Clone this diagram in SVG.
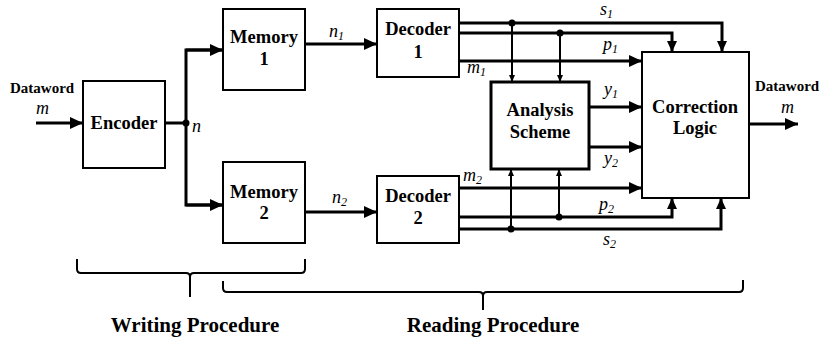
<svg xmlns="http://www.w3.org/2000/svg" width="821" height="340" viewBox="0 0 821 340">
  <style>
    .box { fill: #fff; stroke: #000; stroke-width: 2; }
    .thick { stroke-width: 3; }
    .lbl { font-family: "Liberation Serif", "Times New Roman", serif; font-weight: bold; font-size: 18.5px; text-anchor: middle; fill: #000; }
    .small { font-family: "Liberation Serif", "Times New Roman", serif; font-weight: bold; font-size: 15px; fill: #000; }
    .sig { font-family: "Liberation Serif", "Times New Roman", serif; font-style: italic; font-size: 18px; fill: #000; }
    .sub { font-size: 12px; }
    .title { font-family: "Liberation Serif", "Times New Roman", serif; font-weight: bold; font-size: 21px; text-anchor: middle; fill: #000; }
    .wire { fill: none; stroke: #000; stroke-width: 3; }
    .tap { fill: none; stroke: #000; stroke-width: 2; }
    .brace { fill: none; stroke: #000; stroke-width: 2; }
  </style>
  <defs>
    <marker id="arrow" markerUnits="userSpaceOnUse" markerWidth="14" markerHeight="12" viewBox="0 0 13 12" refX="13" refY="6" orient="auto">
      <path d="M0,0 L13,6 L0,12 Z" fill="#000"/>
    </marker>
    <marker id="arrowMid" markerUnits="userSpaceOnUse" markerWidth="11" markerHeight="10" viewBox="0 0 11 10" refX="11" refY="5" orient="auto">
      <path d="M0,0 L11,5 L0,10 Z" fill="#000"/>
    </marker>
    <marker id="arrowSmall" markerUnits="userSpaceOnUse" markerWidth="7" markerHeight="6" viewBox="0 0 7 6" refX="7" refY="3" orient="auto">
      <path d="M0,0 L7,3 L0,6 Z" fill="#000"/>
    </marker>
  </defs>

  <!-- connectors -->
  <g id="connectors">
    <!-- input dataword -->
    <line class="wire" x1="36" y1="123" x2="83" y2="123" marker-end="url(#arrow)"/>
    <!-- encoder output branches to both memories -->
    <line class="wire" x1="165" y1="123" x2="186" y2="123"/>
    <path class="wire" d="M223,50 H186 V205 H223"/>
    <line class="wire" x1="186" y1="50" x2="223" y2="50" marker-end="url(#arrow)"/>
    <line class="wire" x1="186" y1="205" x2="223" y2="205" marker-end="url(#arrow)"/>
    <circle cx="186" cy="123" r="3.5" fill="#000"/>
    <!-- memories to decoders -->
    <line class="wire" x1="305" y1="44" x2="377" y2="44" marker-end="url(#arrow)"/>
    <line class="wire" x1="305" y1="212" x2="377" y2="212" marker-end="url(#arrow)"/>
    <!-- decoder 1 outputs -->
    <path class="wire" d="M459,23 H722 V52" marker-end="url(#arrowMid)"/>
    <path class="wire" d="M459,33 H672 V52" marker-end="url(#arrowMid)"/>
    <line class="wire" x1="459" y1="61" x2="642" y2="61" marker-end="url(#arrow)"/>
    <!-- decoder 2 outputs -->
    <line class="wire" x1="459" y1="188" x2="642" y2="188" marker-end="url(#arrow)"/>
    <path class="wire" d="M459,217 H672 V198" marker-end="url(#arrowMid)"/>
    <path class="wire" d="M459,229 H721 V198" marker-end="url(#arrowMid)"/>
    <!-- taps into the analysis scheme -->
    <line class="tap" x1="512" y1="23" x2="512" y2="82" marker-end="url(#arrowSmall)"/>
    <line class="tap" x1="560" y1="33" x2="560" y2="82" marker-end="url(#arrowSmall)"/>
    <line class="tap" x1="511" y1="229" x2="511" y2="169" marker-end="url(#arrowSmall)"/>
    <line class="tap" x1="559" y1="217" x2="559" y2="169" marker-end="url(#arrowSmall)"/>
    <circle cx="512" cy="23" r="3.5" fill="#000"/>
    <circle cx="560" cy="33" r="3.5" fill="#000"/>
    <circle cx="511" cy="229" r="3.5" fill="#000"/>
    <circle cx="559" cy="217" r="3.5" fill="#000"/>
    <!-- analysis outputs -->
    <line class="wire" x1="589" y1="107" x2="642" y2="107" marker-end="url(#arrow)"/>
    <line class="wire" x1="589" y1="147" x2="642" y2="147" marker-end="url(#arrow)"/>
    <!-- output dataword -->
    <line class="wire" x1="749" y1="124" x2="798" y2="124" marker-end="url(#arrow)"/>
  </g>

  <!-- signal labels -->
  <g id="labels">
    <text class="small" x="10" y="93">Dataword</text>
    <text class="sig" x="36" y="114">m</text>
    <text class="sig" x="192" y="132">n</text>
    <text class="sig" x="329" y="37">n<tspan class="sub" dy="3">1</tspan></text>
    <text class="sig" x="332" y="203">n<tspan class="sub" dy="3">2</tspan></text>
    <text class="sig" x="600" y="15">s<tspan class="sub" dy="3">1</tspan></text>
    <text class="sig" x="603" y="50">p<tspan class="sub" dy="3">1</tspan></text>
    <text class="sig" x="467" y="73">m<tspan class="sub" dy="3">1</tspan></text>
    <text class="sig" x="463" y="181">m<tspan class="sub" dy="3">2</tspan></text>
    <text class="sig" x="604" y="95">y<tspan class="sub" dy="3">1</tspan></text>
    <text class="sig" x="604" y="164">y<tspan class="sub" dy="3">2</tspan></text>
    <text class="sig" x="599" y="210">p<tspan class="sub" dy="3">2</tspan></text>
    <text class="sig" x="603" y="245">s<tspan class="sub" dy="3">2</tspan></text>
    <text class="small" x="755" y="91">Dataword</text>
    <text class="sig" x="781" y="113">m</text>
  </g>

  <!-- nodes -->
  <g id="encoder">
    <rect class="box" x="83" y="81" width="82" height="87"/>
    <text class="lbl" x="124" y="129">Encoder</text>
  </g>
  <g id="memory1">
    <rect class="box" x="223" y="9" width="82" height="81"/>
    <text class="lbl" x="264" y="43">Memory</text>
    <text class="lbl" x="264" y="65">1</text>
  </g>
  <g id="memory2">
    <rect class="box" x="223" y="162" width="82" height="81"/>
    <text class="lbl" x="264" y="198">Memory</text>
    <text class="lbl" x="264" y="219">2</text>
  </g>
  <g id="decoder1">
    <rect class="box" x="377" y="9" width="82" height="68"/>
    <text class="lbl" x="418" y="35">Decoder</text>
    <text class="lbl" x="418" y="58">1</text>
  </g>
  <g id="decoder2">
    <rect class="box" x="377" y="176" width="82" height="67"/>
    <text class="lbl" x="418" y="202">Decoder</text>
    <text class="lbl" x="418" y="224">2</text>
  </g>
  <g id="analysis">
    <rect class="box thick" x="491" y="82" width="98" height="87"/>
    <text class="lbl" x="540" y="116">Analysis</text>
    <text class="lbl" x="540" y="138">Scheme</text>
  </g>
  <g id="correction">
    <rect class="box" x="642" y="52" width="107" height="146"/>
    <text class="lbl" x="695" y="113">Correction</text>
    <text class="lbl" x="695" y="134">Logic</text>
  </g>

  <!-- procedure braces -->
  <g id="writing">
    <path class="brace" d="M77,259 V269 Q77,273 81,273 H186 Q190,273 190,277 V297 M190,277 Q190,273 194,273 H301 Q305,273 305,269 V259"/>
    <text class="title" x="195" y="332">Writing Procedure</text>
  </g>
  <g id="reading">
    <path class="brace" d="M223,281 V288 Q223,292 227,292 H479 Q483,292 483,296 V310 M483,296 Q483,292 487,292 H739 Q743,292 743,288 V280"/>
    <text class="title" x="493" y="332">Reading Procedure</text>
  </g>
</svg>
